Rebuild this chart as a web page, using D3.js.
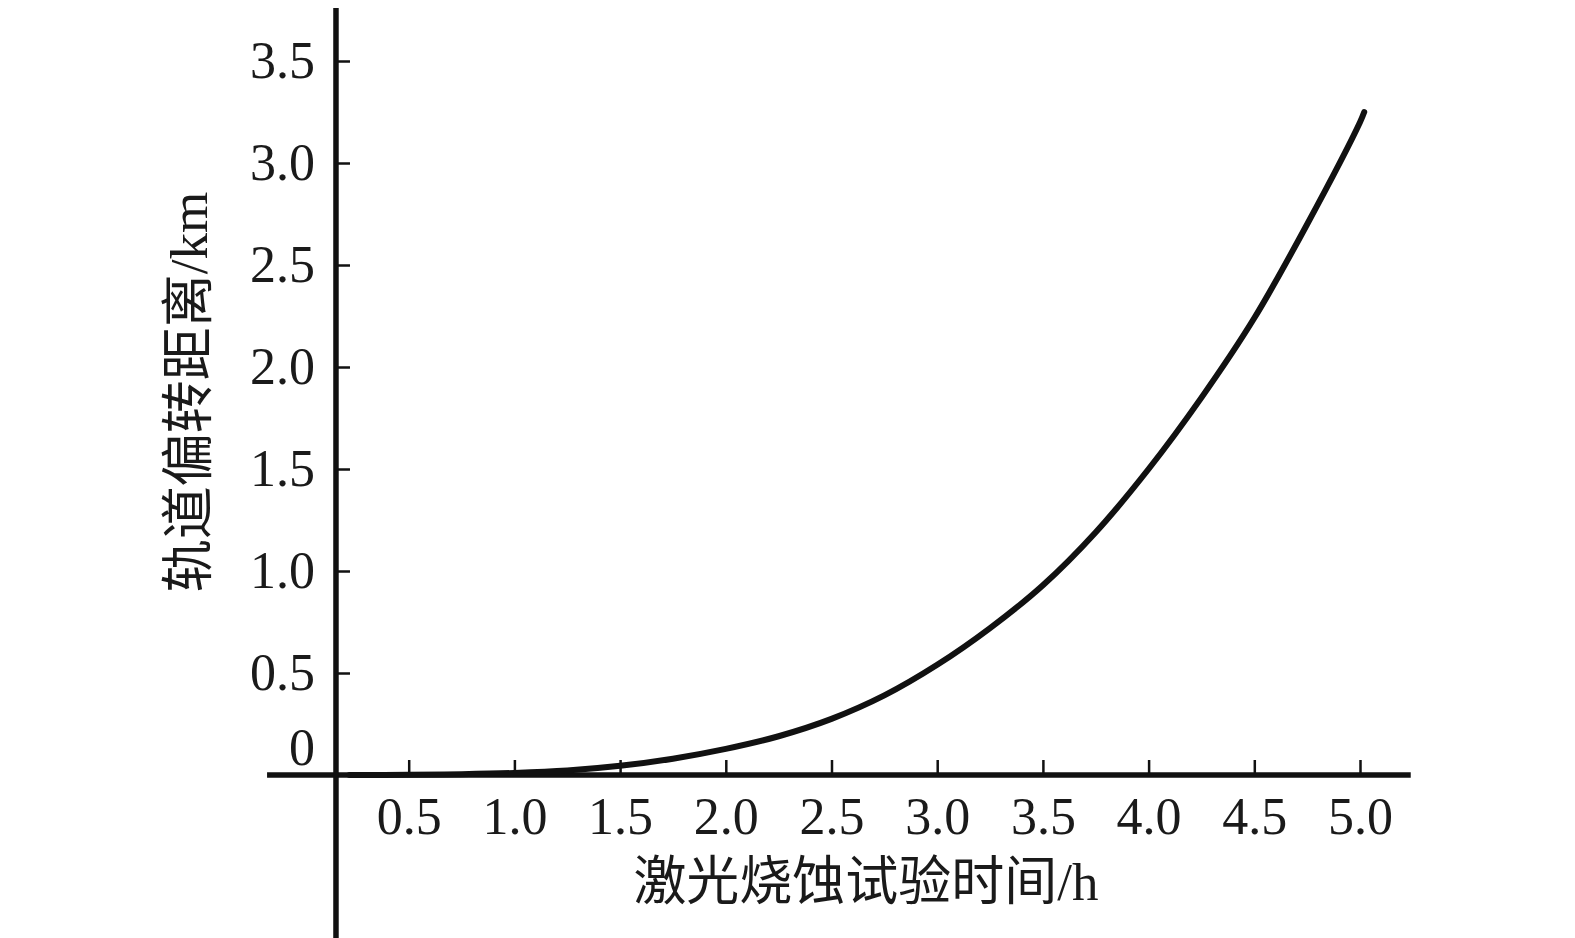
<!DOCTYPE html>
<html>
<head>
<meta charset="utf-8">
<script src="https://cdn.jsdelivr.net/npm/d3@7"></script>
<style>
  body { margin: 0; background: #fff; }
  svg { display: block; }
  text { font-family: "Liberation Serif", "Noto Sans CJK SC", serif; fill: #1a1a1a; }
</style>
</head>
<body>
<div id="chart"></div>
<script>
// test time (h) and orbit offset distance (km)
const hours = [0.22, 0.5, 0.75, 1.0, 1.25, 1.5, 1.75, 2.0, 2.25, 2.5, 2.75, 3.0, 3.25, 3.5, 3.75, 4.0, 4.25, 4.5, 4.75, 5.0, 5.02];
const offsetKm = [0.0, 0.001, 0.004, 0.01, 0.022, 0.045, 0.08, 0.128, 0.19, 0.275, 0.39, 0.54, 0.72, 0.93, 1.19, 1.5, 1.85, 2.24, 2.7, 3.2, 3.25];

const xTicks = [0.5, 1.0, 1.5, 2.0, 2.5, 3.0, 3.5, 4.0, 4.5, 5.0];
const yTicks = [0.5, 1.0, 1.5, 2.0, 2.5, 3.0, 3.5];
const xTitle = "激光烧蚀试验时间/h";
const yTitle = "轨道偏转距离/km";

const width = 1575, height = 938;
const ink = "#111";

const x = d3.scaleLinear().domain([0, 5]).range([303, 1360]);
const y = d3.scaleLinear().domain([0, 3.5]).range([775, 61]);

// axes cross at (0.156, 0) like the original plot
const originX = 0.156;
const xAxisSpan = [-0.17, 5.24];
const yAxisSpan = [-0.82, 3.76];

const svg = d3.select("#chart").append("svg")
  .attr("width", width)
  .attr("height", height);

// x axis
svg.append("g")
  .attr("transform", `translate(0,${y(0)})`)
  .call(d3.axisBottom(x).tickValues(xTicks).tickFormat(d3.format(".1f"))
    .tickSizeInner(-15).tickSizeOuter(0).tickPadding(22))
  .call((g) => g.select(".domain").remove())
  .call((g) => g.selectAll(".tick line").attr("stroke", ink).attr("stroke-width", 2.5))
  .call((g) => g.selectAll(".tick text").attr("font-size", 52).attr("fill", "#1a1a1a"));

// y axis
svg.append("g")
  .attr("transform", `translate(${x(originX)},0)`)
  .call(d3.axisLeft(y).tickValues(yTicks).tickFormat(d3.format(".1f"))
    .tickSizeInner(-14).tickSizeOuter(0).tickPadding(21))
  .call((g) => g.select(".domain").remove())
  .call((g) => g.selectAll(".tick line").attr("stroke", ink).attr("stroke-width", 2.5))
  .call((g) => g.selectAll(".tick text").attr("font-size", 52).attr("fill", "#1a1a1a"));

// zero label sits above the x axis
svg.append("text")
  .attr("x", x(originX) - 21)
  .attr("y", y(0) - 27)
  .attr("dy", "0.32em")
  .attr("text-anchor", "end")
  .attr("font-size", 52)
  .text("0");

// axis lines
svg.append("line")
  .attr("x1", x(xAxisSpan[0])).attr("x2", x(xAxisSpan[1]))
  .attr("y1", y(0)).attr("y2", y(0))
  .attr("stroke", ink).attr("stroke-width", 5.5);

svg.append("line")
  .attr("x1", x(originX)).attr("x2", x(originX))
  .attr("y1", y(yAxisSpan[0])).attr("y2", y(yAxisSpan[1]))
  .attr("stroke", ink).attr("stroke-width", 5.5);

// curve
const line = d3.line()
  .x((d, i) => x(hours[i]))
  .y((d) => y(d))
  .curve(d3.curveCatmullRom);

svg.append("path")
  .datum(offsetKm)
  .attr("d", line)
  .attr("fill", "none")
  .attr("stroke", ink)
  .attr("stroke-width", 6)
  .attr("stroke-linecap", "round");

// titles
svg.append("text")
  .attr("x", 866)
  .attr("y", 900)
  .attr("text-anchor", "middle")
  .attr("font-size", 53)
  .text(xTitle);

svg.append("text")
  .attr("transform", "translate(207,392) rotate(-90)")
  .attr("text-anchor", "middle")
  .attr("font-size", 53)
  .text(yTitle);
</script>
</body>
</html>
